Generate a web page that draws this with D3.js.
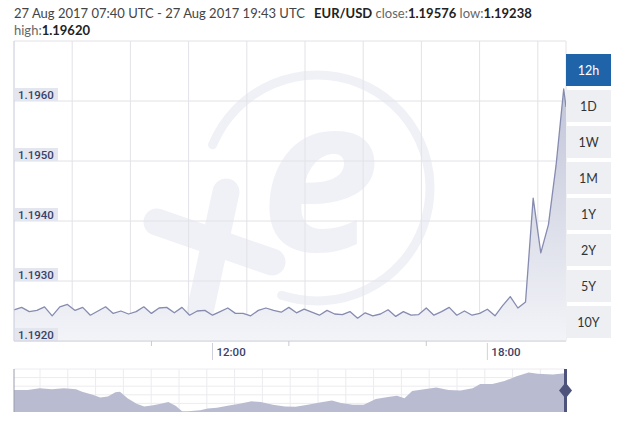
<!DOCTYPE html>
<html>
<head>
<meta charset="utf-8">
<script src="https://cdn.jsdelivr.net/npm/d3@7"></script>
<style>
  html, body { margin: 0; padding: 0; background: #fff; }
  svg { display: block; font-family: Lato, "Open Sans", sans-serif; }
</style>
</head>
<body>
<svg id="chart" width="625" height="423"></svg>
<script>
// EUR/USD 12h, 10 minute points, 07:40 -> 19:43 UTC
const startTime = new Date(Date.UTC(2017, 7, 27, 7, 40));
const endTime = new Date(Date.UTC(2017, 7, 27, 19, 43));
const rates = [
  1.19252, 1.19256, 1.19249, 1.19251, 1.19257, 1.19242, 1.19257, 1.19261, 1.19251, 1.19256,
  1.19243, 1.19250, 1.19257, 1.19246, 1.19250, 1.19245, 1.19249, 1.19257, 1.19246, 1.19255,
  1.19256, 1.19247, 1.19256, 1.19243, 1.19250, 1.19251, 1.19243, 1.19249, 1.19255, 1.19246,
  1.19246, 1.19242, 1.19251, 1.19255, 1.19251, 1.19248, 1.19256, 1.19247, 1.19253, 1.19248,
  1.19243, 1.19251, 1.19245, 1.19244, 1.19249, 1.19238, 1.19247, 1.19242, 1.19245, 1.19252,
  1.19241, 1.19249, 1.19243, 1.19244, 1.19255, 1.19243, 1.19249, 1.19256, 1.19243, 1.19250,
  1.19243, 1.19246, 1.19253, 1.19242, 1.19259, 1.19274, 1.19255, 1.19265, 1.19438, 1.19347,
  1.19394, 1.19493, 1.19620, 1.19590
];
const yTicks = [1.1920, 1.1930, 1.1940, 1.1950, 1.1960, 1.1970];
const yLabels = ['1.1920', '1.1930', '1.1940', '1.1950', '1.1960'];
const timeTicks = ['12:00', '18:00'];
const minorTicks = ['10:40', '13:40', '16:40'];
const ranges = ['12h', '1D', '1W', '1M', '1Y', '2Y', '5Y', '10Y'];
const activeRange = '12h';

// navigator (long history thumbnail), day index and relative level
const navDay = [0, 9, 17, 25, 33, 41, 45, 52, 57, 62, 67, 70, 75, 81, 86, 91, 97, 102, 107, 111,
  115, 123, 128, 134, 142, 149, 157, 163, 171, 179, 186, 194, 202, 210, 216, 224, 231, 239, 247, 253,
  258, 263, 271, 279, 287, 295, 303, 308, 316, 324, 332, 340, 346, 356, 364];
const navLevel = [51, 51, 55, 53, 55, 53, 47, 40, 34, 36, 46, 47, 32, 19, 13, 15, 19, 23, 14, 2,
  2, 4, 8, 10, 15, 19, 25, 23, 17, 13, 12, 17, 22, 27, 21, 17, 17, 30, 35, 38,
  32, 49, 53, 57, 51, 50, 55, 65, 65, 72, 83, 92, 89, 87, 90];

const svg = d3.select('#chart');
const plotL = 14, plotR = 566, plotT = 41, plotB = 341;
const ink = '#3b4168';
const wm = '#f0f1f6';

const parseHM = (s) => {
  const [h, m] = s.split(':').map(Number);
  return new Date(Date.UTC(2017, 7, 27, h, m));
};

const x = d3.scaleUtc().domain([startTime, endTime]).range([plotL, plotR]);
const y = d3.scaleLinear().domain([1.1920, 1.1970]).range([plotB, plotT]);

const points = rates.map((v, i) => ({
  t: i < rates.length - 1 ? d3.utcMinute.offset(startTime, i * 10) : endTime,
  v
}));

// header
const head = svg.append('text').attr('x', 14).attr('y', 18)
  .attr('font-size', 13).attr('fill', '#444');
head.append('tspan').text('27 Aug 2017 07:40 UTC - 27 Aug 2017 19:43 UTC');
head.append('tspan').attr('x', 314).attr('font-weight', 'bold').attr('fill', '#222').text('EUR/USD');
head.append('tspan').attr('fill', '#666').text(' close:');
head.append('tspan').attr('font-weight', 'bold').attr('fill', '#222').text('1.19576');
head.append('tspan').attr('fill', '#666').text(' low:');
head.append('tspan').attr('font-weight', 'bold').attr('fill', '#222').text('1.19238');
const head2 = svg.append('text').attr('x', 14).attr('y', 35)
  .attr('font-size', 13).attr('fill', '#666');
head2.append('tspan').text('high:');
head2.append('tspan').attr('font-weight', 'bold').attr('fill', '#222').text('1.19620');

// watermark
const mark = svg.append('g');
const ring = d3.path();
ring.arc(317, 188, 113, -Math.PI / 2 - 1.178, -Math.PI / 2 + 3.46);
mark.append('path').attr('d', ring.toString())
  .attr('fill', 'none').attr('stroke', wm).attr('stroke-width', 9).attr('stroke-linecap', 'round');
mark.append('line').attr('x1', 157).attr('y1', 222).attr('x2', 272).attr('y2', 262)
  .attr('stroke', wm).attr('stroke-width', 27).attr('stroke-linecap', 'round');
mark.append('line').attr('x1', 226).attr('y1', 192).attr('x2', 200).attr('y2', 312)
  .attr('stroke', wm).attr('stroke-width', 27).attr('stroke-linecap', 'round');
mark.append('text').attr('x', 320).attr('y', 251)
  .attr('text-anchor', 'middle').attr('font-family', '"Open Sans", sans-serif')
  .attr('font-weight', 'bold').attr('font-style', 'italic').attr('font-size', 215)
  .attr('fill', wm).text('e');

// grid
svg.append('g').selectAll('line')
  .data(yTicks)
  .enter()
  .append('line')
  .attr('x1', plotL).attr('x2', plotR)
  .attr('y1', d => y(d)).attr('y2', d => y(d))
  .attr('stroke', '#e2e2e8');

const vStep = 58.2;
svg.append('g').selectAll('line')
  .data(d3.range(1, 10))
  .enter()
  .append('line')
  .attr('x1', i => plotL + i * vStep).attr('x2', i => plotL + i * vStep)
  .attr('y1', plotT).attr('y2', plotB)
  .attr('stroke', '#e2e2e8');

svg.append('line').attr('x1', plotR).attr('x2', plotR).attr('y1', plotT).attr('y2', plotB)
  .attr('stroke', '#e2e2e8');

// area + line
const defs = svg.append('defs');
const grad = defs.append('linearGradient').attr('id', 'fillGrad')
  .attr('gradientUnits', 'userSpaceOnUse')
  .attr('x1', 0).attr('x2', 0).attr('y1', y(1.1962)).attr('y2', plotB);
grad.append('stop').attr('offset', 0).attr('stop-color', '#c2c5d9');
grad.append('stop').attr('offset', 1).attr('stop-color', '#f3f4f8');

svg.append('path')
  .datum(points)
  .attr('fill', 'url(#fillGrad)')
  .attr('d', d3.area().x(d => x(d.t)).y0(plotB).y1(d => y(d.v)));

svg.append('path')
  .datum(points)
  .attr('fill', 'none')
  .attr('stroke', '#868bb0')
  .attr('stroke-width', 1.3)
  .attr('stroke-linejoin', 'round')
  .attr('d', d3.line().x(d => x(d.t)).y(d => y(d.v)));

// left axis line
svg.append('line').attr('x1', plotL).attr('x2', plotL).attr('y1', plotT).attr('y2', plotB)
  .attr('stroke', '#c5c8dc');

// y labels
const yl = svg.append('g').selectAll('g')
  .data(yLabels)
  .enter()
  .append('g')
  .attr('transform', d => `translate(${plotL + 1},${y(+d)})`);
yl.append('rect').attr('x', 0).attr('y', -13).attr('width', 43).attr('height', 13)
  .attr('fill', '#e4e6ef');
yl.append('text').attr('x', 3).attr('y', -2.5)
  .attr('font-family', 'Roboto, sans-serif').attr('font-size', 11.5).attr('font-weight', 500)
  .attr('fill', ink).text(d => d);

// x axis
svg.append('line').attr('x1', plotL).attr('x2', plotR).attr('y1', plotB).attr('y2', plotB)
  .attr('stroke', '#d2d3dc');
svg.append('g').selectAll('line')
  .data(minorTicks)
  .enter()
  .append('line')
  .attr('x1', d => x(parseHM(d))).attr('x2', d => x(parseHM(d)))
  .attr('y1', plotB).attr('y2', plotB + 5)
  .attr('stroke', '#c8c9d2');
const xt = svg.append('g').selectAll('g')
  .data(timeTicks)
  .enter()
  .append('g')
  .attr('transform', d => `translate(${x(parseHM(d))},0)`);
xt.append('line').attr('y1', plotB + 2).attr('y2', plotB + 19).attr('stroke', '#d0d1da');
xt.append('text').attr('x', 4).attr('y', plotB + 15)
  .attr('font-family', 'Roboto, sans-serif').attr('font-size', 11.5).attr('font-weight', 500)
  .attr('fill', ink).text(d => d);

// range buttons
const btn = svg.append('g').selectAll('g')
  .data(ranges)
  .enter()
  .append('g')
  .attr('transform', (d, i) => `translate(566,${54 + i * 36})`);
btn.append('rect').attr('width', 45).attr('height', 32)
  .attr('fill', d => (d === activeRange ? '#1f63a8' : '#eeeff3'));
btn.append('text').attr('x', 22.5).attr('y', 20.5).attr('text-anchor', 'middle')
  .attr('font-size', 12.5)
  .attr('fill', d => (d === activeRange ? '#fff' : '#333'))
  .text(d => d);

// navigator
const navTop = 369, navBottom = 412;
const nx = d3.scaleLinear().domain([0, 364]).range([plotL, 565]);
const ny = d3.scaleLinear().domain([0, 100]).range([navBottom, navTop]);
const nav = svg.append('g');
nav.selectAll('.nv')
  .data(d3.range(plotL + 26, 565, 27.8))
  .enter()
  .append('line')
  .attr('x1', d => d).attr('x2', d => d)
  .attr('y1', navTop).attr('y2', navBottom)
  .attr('stroke', '#ececf0');
nav.selectAll('.nh')
  .data([0, 25, 50, 75, 100])
  .enter()
  .append('line')
  .attr('x1', plotL).attr('x2', 565)
  .attr('y1', d => ny(100 - d * 0.8)).attr('y2', d => ny(100 - d * 0.8))
  .attr('stroke', '#ececf0');
nav.append('path')
  .datum(navDay.map((d, i) => [d, navLevel[i]]))
  .attr('fill', '#b9bcd1')
  .attr('d', d3.area().x(d => nx(d[0])).y0(navBottom).y1(d => ny(d[1])));
nav.append('line').attr('x1', plotL).attr('x2', plotL).attr('y1', navTop).attr('y2', navBottom)
  .attr('stroke', '#9a9cae');
nav.append('rect').attr('x', 564).attr('y', navTop).attr('width', 3).attr('height', navBottom - navTop)
  .attr('fill', '#4d537a');
const dy = (navTop + navBottom) / 2;
nav.append('path')
  .attr('d', `M565.5,${dy - 8}L572,${dy}L565.5,${dy + 8}L559,${dy}Z`)
  .attr('fill', '#4d537a');
</script>
</body>
</html>
